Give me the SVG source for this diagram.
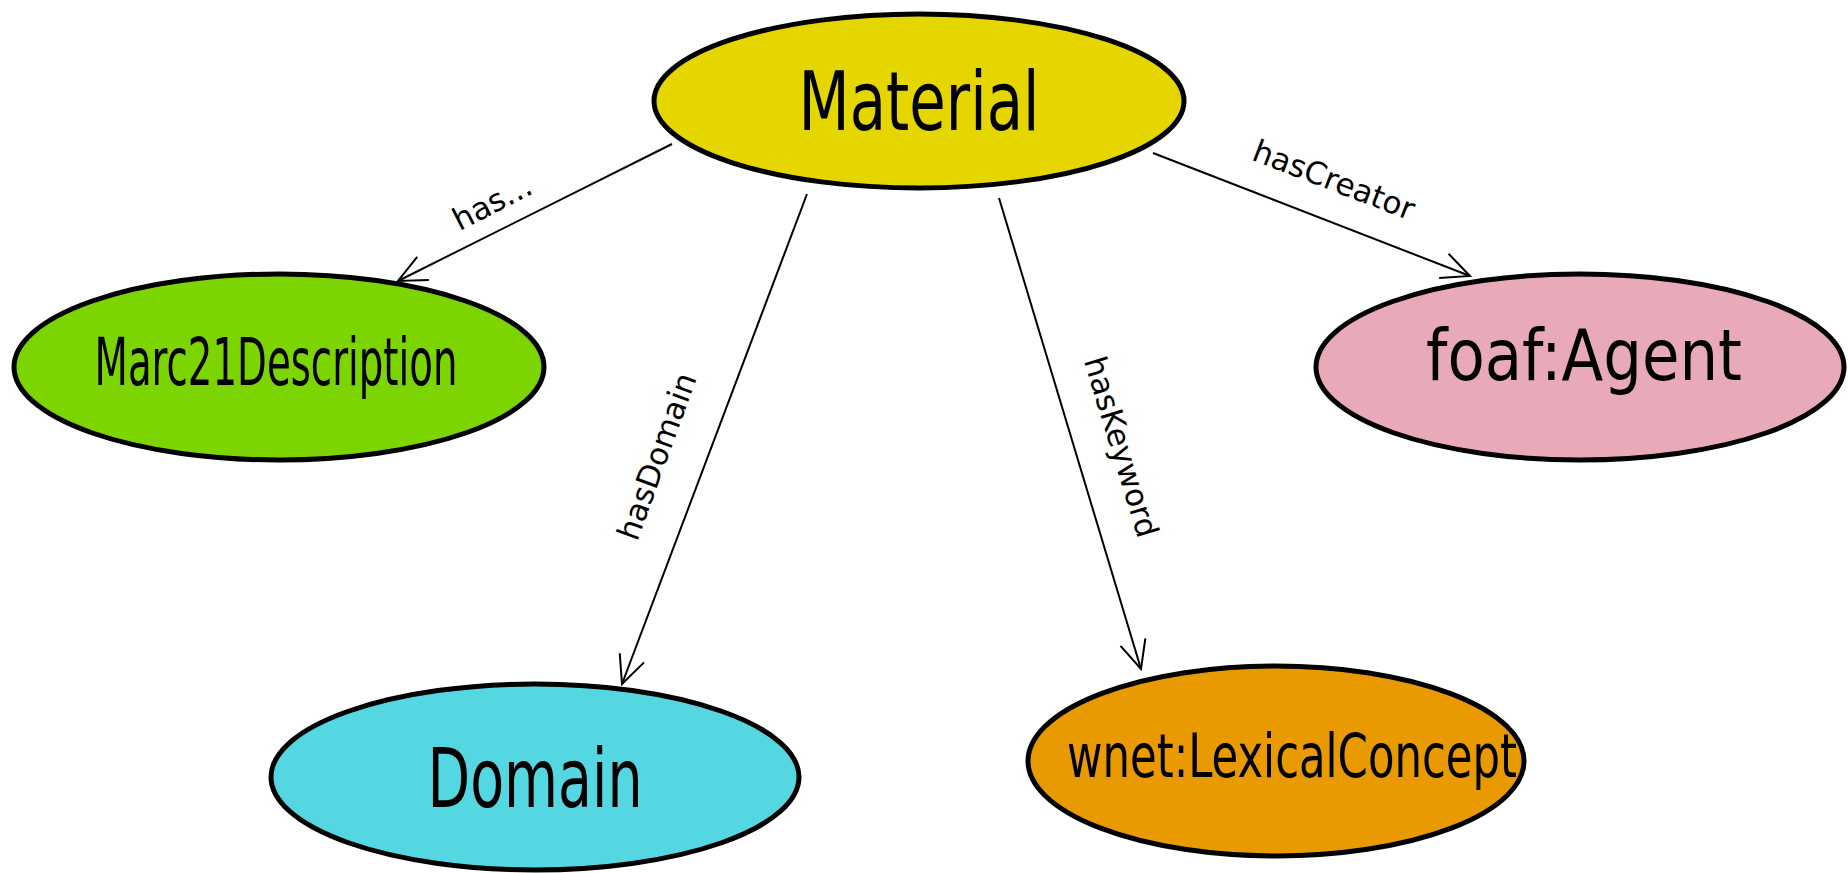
<svg xmlns="http://www.w3.org/2000/svg" width="1848" height="873" viewBox="0 0 1848 873">
<style>
.node{stroke:#000;stroke-width:5}
.nt{font-family:"DejaVu Sans Condensed","DejaVu Sans",sans-serif;fill:#000;text-anchor:middle}
.edge{stroke:#000;stroke-width:2;fill:none}
.el{font-family:"DejaVu Sans",sans-serif;font-size:31px;fill:#000;text-anchor:middle}
</style>
<defs>
<marker id="arr" viewBox="0 0 32 32" refX="30" refY="16" markerWidth="32" markerHeight="32" markerUnits="userSpaceOnUse" orient="auto">
<path d="M2,3 L30,16 L2,29" fill="none" stroke="#000" stroke-width="2"/>
</marker>
</defs>
<rect width="1848" height="873" fill="#fff"/>
<g id="connectors">
<line class="edge" x1="672" y1="144" x2="398" y2="281" marker-end="url(#arr)"/>
<line class="edge" x1="807" y1="194" x2="622" y2="684" marker-end="url(#arr)"/>
<line class="edge" x1="999" y1="198" x2="1141" y2="669" marker-end="url(#arr)"/>
<line class="edge" x1="1153" y1="153" x2="1470" y2="276" marker-end="url(#arr)"/>
<text class="el" transform="translate(497,212) rotate(-27)">has...</text>
<text class="el" transform="translate(667,460) rotate(-70)">hasDomain</text>
<text class="el" transform="translate(1111,450) rotate(73)">hasKeyword</text>
<text class="el" transform="translate(1330,190) rotate(21)">hasCreator</text>
</g>
<g id="material">
<ellipse class="node" cx="919" cy="101" rx="265" ry="87" fill="#e5d600"/>
<text class="nt" x="919" y="130" font-size="82" textLength="241" lengthAdjust="spacingAndGlyphs">Material</text>
</g>
<g id="marc21">
<ellipse class="node" cx="279" cy="367" rx="265" ry="93" fill="#7cd400"/>
<text class="nt" x="276" y="385" font-size="66" textLength="363" lengthAdjust="spacingAndGlyphs">Marc21Description</text>
</g>
<g id="agent">
<ellipse class="node" cx="1580" cy="367" rx="264" ry="93" fill="#e8a9b9"/>
<text class="nt" x="1584" y="380" font-size="72" textLength="316" lengthAdjust="spacingAndGlyphs">foaf:Agent</text>
</g>
<g id="domain">
<ellipse class="node" cx="535" cy="777" rx="264" ry="93" fill="#55d7e2"/>
<text class="nt" x="535" y="807" font-size="82" textLength="215" lengthAdjust="spacingAndGlyphs">Domain</text>
</g>
<g id="lexical">
<ellipse class="node" cx="1276" cy="761" rx="248" ry="95" fill="#e99a00"/>
<text class="nt" x="1292" y="777" font-size="60" textLength="450" lengthAdjust="spacingAndGlyphs">wnet:LexicalConcept</text>
</g>
</svg>
